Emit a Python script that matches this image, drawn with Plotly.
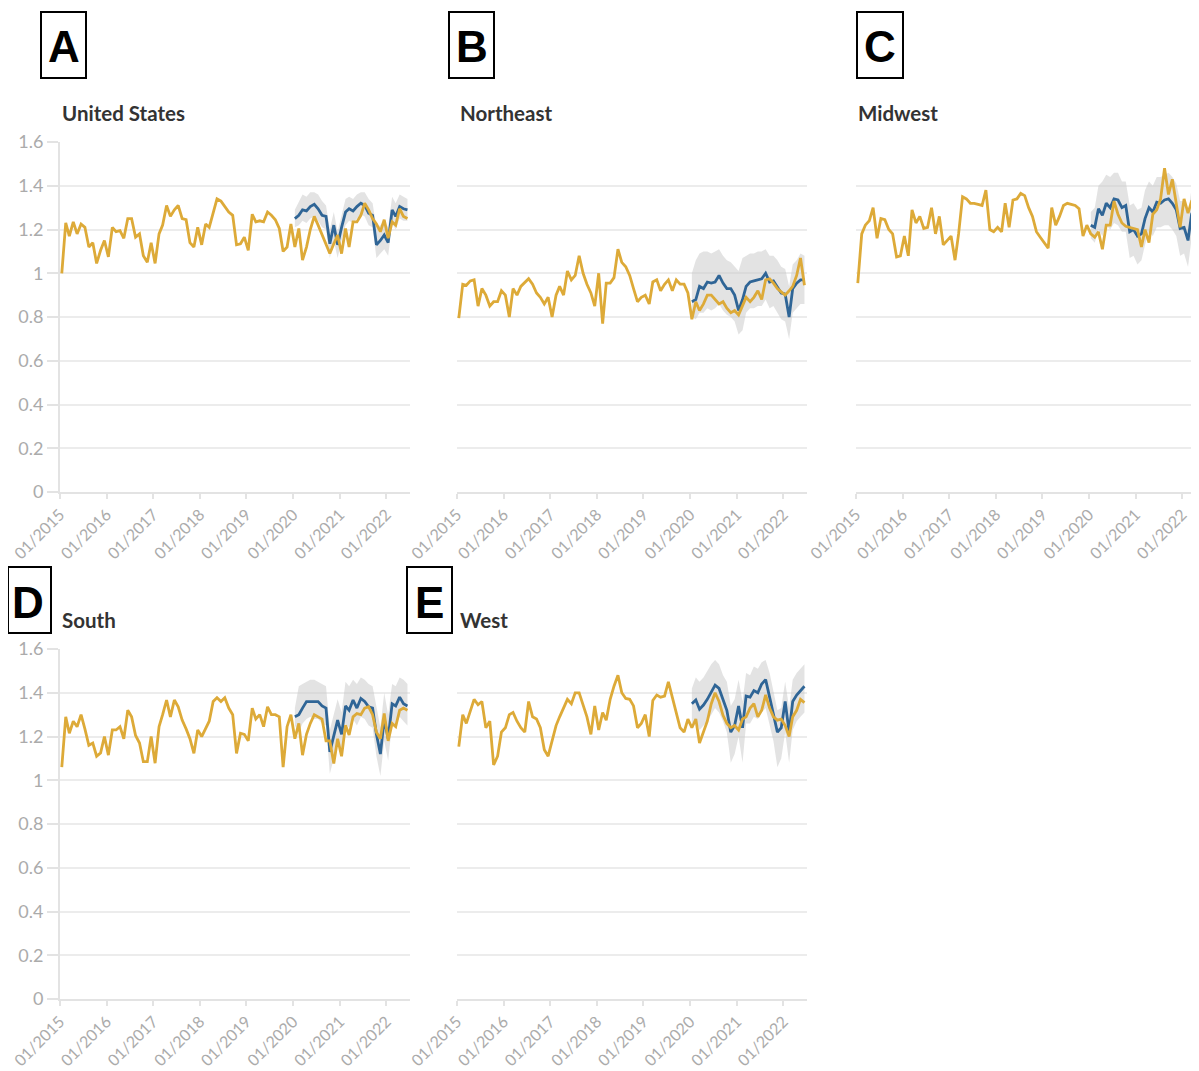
import plotly.graph_objects as go

# ---------------- data (monthly, Jan 2015 - Jun 2022) ----------------
months = [f"{2015 + i // 12}-{i % 12 + 1:02d}-15" for i in range(90)]
exp_months = months[60:]  # expected series starts Jan 2020

panel_titles = ["United States", "Northeast", "Midwest", "South", "West"]
panel_letters = ["A", "B", "C", "D", "E"]

us_obs = [1.0, 1.23, 1.17, 1.235, 1.18, 1.225, 1.21, 1.12, 1.14, 1.045, 1.105, 1.15,
          1.075, 1.21, 1.19, 1.195, 1.16, 1.25, 1.25, 1.165, 1.18, 1.08, 1.05, 1.14,
          1.045, 1.18, 1.22, 1.31, 1.26, 1.29, 1.31, 1.25, 1.245, 1.14, 1.12, 1.21,
          1.13, 1.225, 1.21, 1.28, 1.34, 1.33, 1.305, 1.28, 1.265, 1.13, 1.135, 1.165,
          1.105, 1.27, 1.235, 1.24, 1.235, 1.28, 1.265, 1.245, 1.205, 1.10, 1.12, 1.225,
          1.12, 1.205, 1.06, 1.12, 1.20, 1.26, 1.22, 1.175, 1.135, 1.09, 1.135, 1.175,
          1.09, 1.205, 1.12, 1.235, 1.235, 1.265, 1.32, 1.29, 1.25, 1.225, 1.19, 1.245,
          1.16, 1.235, 1.22, 1.295, 1.26, 1.25]
us_exp = [1.25, 1.265, 1.29, 1.285, 1.305, 1.315, 1.295, 1.265, 1.26, 1.135, 1.22, 1.13,
          1.21, 1.28, 1.295, 1.285, 1.305, 1.32, 1.31, 1.275, 1.265, 1.13, 1.15, 1.175,
          1.14, 1.29, 1.26, 1.305, 1.295, 1.29]
us_up = [1.29, 1.33, 1.36, 1.35, 1.37, 1.37, 1.36, 1.33, 1.31, 1.20, 1.28, 1.19,
         1.27, 1.34, 1.35, 1.34, 1.36, 1.37, 1.37, 1.34, 1.32, 1.21, 1.22, 1.24,
         1.21, 1.35, 1.32, 1.36, 1.35, 1.34]
us_lo = [1.21, 1.22, 1.24, 1.23, 1.25, 1.26, 1.24, 1.21, 1.20, 1.07, 1.15, 1.07,
         1.15, 1.22, 1.24, 1.23, 1.25, 1.27, 1.26, 1.22, 1.21, 1.07, 1.09, 1.11,
         1.08, 1.23, 1.20, 1.25, 1.24, 1.24]

ne_obs = [0.795, 0.95, 0.945, 0.965, 0.97, 0.85, 0.93, 0.90, 0.85, 0.87, 0.87, 0.92,
          0.90, 0.80, 0.93, 0.90, 0.94, 0.96, 0.975, 0.95, 0.91, 0.89, 0.86, 0.89,
          0.80, 0.90, 0.94, 0.90, 1.01, 0.97, 0.99, 1.08, 1.00, 0.95, 0.91, 0.85,
          1.00, 0.77, 0.955, 0.955, 0.98, 1.11, 1.05, 1.03, 0.99, 0.93, 0.87, 0.89,
          0.90, 0.86, 0.96, 0.97, 0.92, 0.95, 0.97, 0.92, 0.97, 0.95, 0.95, 0.91,
          0.79, 0.87, 0.83, 0.86, 0.90, 0.90, 0.88, 0.86, 0.87, 0.84, 0.82, 0.83,
          0.81, 0.85, 0.89, 0.87, 0.89, 0.92, 0.88, 0.97, 0.975, 0.955, 0.93, 0.915,
          0.90, 0.92, 0.94, 0.99, 1.07, 0.945]
ne_exp = [0.87, 0.88, 0.94, 0.93, 0.96, 0.955, 0.96, 0.99, 0.955, 0.93, 0.93, 0.90,
          0.83, 0.88, 0.94, 0.96, 0.965, 0.97, 0.975, 1.00, 0.96, 0.965, 0.94, 0.91,
          0.905, 0.80, 0.93, 0.955, 0.97, 0.97]
ne_up = [1.00, 1.06, 1.09, 1.10, 1.10, 1.09, 1.10, 1.11, 1.08, 1.06, 1.05, 1.03,
         1.01, 1.07, 1.08, 1.09, 1.09, 1.10, 1.10, 1.11, 1.08, 1.08, 1.06, 1.03,
         1.02, 0.94, 1.04, 1.06, 1.09, 1.08]
ne_lo = [0.80, 0.79, 0.82, 0.82, 0.84, 0.83, 0.84, 0.86, 0.83, 0.81, 0.80, 0.78,
         0.72, 0.74, 0.82, 0.84, 0.84, 0.85, 0.85, 0.88, 0.84, 0.85, 0.82, 0.79,
         0.78, 0.70, 0.82, 0.84, 0.86, 0.86]

mw_obs = [0.955, 1.18, 1.22, 1.24, 1.30, 1.16, 1.25, 1.245, 1.20, 1.18, 1.075, 1.08,
          1.17, 1.08, 1.29, 1.23, 1.26, 1.205, 1.21, 1.30, 1.18, 1.26, 1.13, 1.15,
          1.17, 1.06, 1.18, 1.35, 1.34, 1.32, 1.32, 1.315, 1.31, 1.38, 1.20, 1.19,
          1.21, 1.19, 1.32, 1.21, 1.335, 1.34, 1.365, 1.355, 1.30, 1.26, 1.19, 1.165,
          1.14, 1.115, 1.30, 1.22, 1.26, 1.31, 1.32, 1.315, 1.31, 1.295, 1.17, 1.22,
          1.18, 1.165, 1.19, 1.11, 1.22, 1.22, 1.33, 1.27, 1.23, 1.215, 1.21, 1.205,
          1.20, 1.12, 1.20, 1.14, 1.27, 1.29, 1.34, 1.48, 1.36, 1.43, 1.32, 1.21,
          1.34, 1.275, 1.33, 1.34, 1.345, 1.35]
mw_exp = [1.22, 1.21, 1.295, 1.265, 1.32, 1.30, 1.34, 1.335, 1.30, 1.31, 1.19, 1.20,
          1.17, 1.18, 1.25, 1.30, 1.28, 1.325, 1.32, 1.335, 1.34, 1.32, 1.29, 1.205,
          1.21, 1.15, 1.27, 1.31, 1.33, 1.34]
mw_up = [1.28, 1.30, 1.40, 1.42, 1.45, 1.44, 1.46, 1.46, 1.42, 1.42, 1.31, 1.32,
         1.29, 1.30, 1.38, 1.42, 1.40, 1.44, 1.44, 1.45, 1.46, 1.44, 1.41, 1.33,
         1.33, 1.27, 1.39, 1.42, 1.44, 1.44]
mw_lo = [1.16, 1.14, 1.20, 1.17, 1.22, 1.20, 1.23, 1.22, 1.19, 1.19, 1.07, 1.08,
         1.04, 1.06, 1.13, 1.19, 1.17, 1.21, 1.21, 1.22, 1.22, 1.20, 1.17, 1.08,
         1.09, 1.03, 1.16, 1.20, 1.22, 1.23]

so_obs = [1.06, 1.29, 1.215, 1.27, 1.245, 1.30, 1.235, 1.16, 1.17, 1.11, 1.125, 1.20,
          1.115, 1.23, 1.23, 1.245, 1.19, 1.32, 1.29, 1.205, 1.17, 1.085, 1.085, 1.20,
          1.078, 1.245, 1.30, 1.367, 1.29, 1.367, 1.336, 1.275, 1.235, 1.19, 1.123, 1.23,
          1.20, 1.235, 1.27, 1.36, 1.377, 1.36, 1.377, 1.33, 1.30, 1.123, 1.215, 1.21,
          1.18, 1.33, 1.28, 1.30, 1.245, 1.336, 1.30, 1.30, 1.29, 1.06, 1.245, 1.30,
          1.19, 1.26, 1.115, 1.21, 1.26, 1.30, 1.29, 1.28, 1.18, 1.18, 1.077, 1.19,
          1.11, 1.252, 1.207, 1.29, 1.305, 1.30, 1.33, 1.336, 1.30, 1.22, 1.19, 1.305,
          1.18, 1.26, 1.245, 1.32, 1.33, 1.32]
so_exp = [1.29, 1.30, 1.33, 1.36, 1.36, 1.36, 1.36, 1.34, 1.33, 1.13, 1.20, 1.275,
          1.21, 1.34, 1.32, 1.367, 1.33, 1.374, 1.36, 1.336, 1.33, 1.21, 1.12, 1.28,
          1.19, 1.35, 1.34, 1.38, 1.35, 1.34]
so_up = [1.33, 1.43, 1.44, 1.45, 1.46, 1.46, 1.45, 1.44, 1.43, 1.23, 1.30, 1.37,
         1.31, 1.45, 1.43, 1.46, 1.44, 1.47, 1.46, 1.44, 1.43, 1.33, 1.24, 1.40,
         1.30, 1.44, 1.43, 1.47, 1.46, 1.44]
so_lo = [1.25, 1.22, 1.26, 1.28, 1.29, 1.28, 1.28, 1.26, 1.25, 1.03, 1.10, 1.18,
         1.11, 1.26, 1.24, 1.28, 1.25, 1.29, 1.28, 1.25, 1.24, 1.11, 1.02, 1.18,
         1.09, 1.26, 1.25, 1.29, 1.27, 1.25]

we_obs = [1.154, 1.30, 1.26, 1.32, 1.37, 1.345, 1.36, 1.24, 1.27, 1.07, 1.11, 1.22,
          1.24, 1.30, 1.31, 1.27, 1.24, 1.22, 1.36, 1.29, 1.28, 1.24, 1.14, 1.11,
          1.18, 1.25, 1.29, 1.33, 1.37, 1.35, 1.40, 1.40, 1.345, 1.29, 1.21, 1.34,
          1.23, 1.31, 1.275, 1.37, 1.43, 1.48, 1.40, 1.374, 1.37, 1.34, 1.24, 1.26,
          1.30, 1.20, 1.365, 1.39, 1.38, 1.385, 1.45, 1.38, 1.30, 1.24, 1.22, 1.28,
          1.24, 1.28, 1.17, 1.22, 1.27, 1.35, 1.40, 1.36, 1.297, 1.26, 1.24, 1.25,
          1.23, 1.28, 1.29, 1.33, 1.35, 1.29, 1.32, 1.39, 1.33, 1.29, 1.275, 1.28,
          1.25, 1.20, 1.29, 1.32, 1.37, 1.355]
we_exp = [1.35, 1.367, 1.325, 1.344, 1.37, 1.40, 1.435, 1.42, 1.37, 1.32, 1.22, 1.25,
          1.34, 1.24, 1.385, 1.38, 1.41, 1.40, 1.44, 1.46, 1.38, 1.30, 1.22, 1.24,
          1.36, 1.22, 1.36, 1.39, 1.41, 1.43]
we_up = [1.42, 1.47, 1.45, 1.47, 1.50, 1.53, 1.55, 1.53, 1.48, 1.45, 1.34, 1.37,
         1.46, 1.36, 1.49, 1.48, 1.52, 1.51, 1.54, 1.55, 1.49, 1.41, 1.32, 1.33,
         1.45, 1.33, 1.46, 1.49, 1.51, 1.53]
we_lo = [1.26, 1.28, 1.23, 1.25, 1.27, 1.30, 1.33, 1.31, 1.27, 1.22, 1.08, 1.12,
         1.20, 1.08, 1.26, 1.26, 1.29, 1.28, 1.31, 1.33, 1.26, 1.18, 1.06, 1.10,
         1.22, 1.08, 1.23, 1.27, 1.29, 1.31]

observed = [us_obs, ne_obs, mw_obs, so_obs, we_obs]
expected = [us_exp, ne_exp, mw_exp, so_exp, we_exp]
upper = [us_up, ne_up, mw_up, so_up, we_up]
lower = [us_lo, ne_lo, mw_lo, so_lo, we_lo]

# ---------------- layout (page pixel positions) ----------------
OFF = 8                       # default page body margin
W, H = 1199 - OFF, 1071 - OFF  # figure size so it ends at the window edge
YELLOW = "#DDAA38"
BLUE = "#2F6596"
BAND = "rgba(200,200,200,0.5)"
GRID = "#ECECEC"
AXIS = "#E3E3E3"
TICKFONT = "#ABABAB"

# (x0, x1, ytop, ybottom, show y labels, x range end) in page pixels
frames = [
    (60, 410, 141.6, 492, True, "2022-07-05"),
    (457, 807, 141.6, 492, False, "2022-07-05"),
    (856, 1199, 141.6, 492, False, "2022-05-12"),
    (60, 410, 648.6, 999, True, "2022-07-05"),
    (457, 807, 648.6, 999, False, "2022-07-05"),
]
title_pos = [(60, 113), (458, 113), (856, 113), (60, 620), (458, 620)]
letter_boxes = [(41, 12, 86, 78), (449, 12, 494, 78), (857, 12, 903, 78),
                (5, 567, 51, 633), (407, 567, 452, 633)]


def fx(p):
    return min(max((p - OFF) / W, 0), 1)


def fy(p):
    return min(max(1 - (p - OFF) / H, 0), 1)


fig = go.Figure()
layout = dict(
    width=W, height=H, autosize=False, margin=dict(l=0, r=0, t=0, b=0, pad=0, autoexpand=False),
    paper_bgcolor="white", plot_bgcolor="white", showlegend=False,
    font=dict(family="Lato, Open Sans, sans-serif", color=TICKFONT),
    shapes=[], annotations=[],
)

for i in range(5):
    n = "" if i == 0 else str(i + 1)
    xa, ya = "x" + n, "y" + n
    x0, x1, yt, yb, ylab, xend = frames[i]

    fig.add_trace(go.Scatter(x=exp_months, y=lower[i], xaxis=xa, yaxis=ya, mode="lines",
                             line=dict(width=0, color=BAND), hoverinfo="skip"))
    fig.add_trace(go.Scatter(x=exp_months, y=upper[i], xaxis=xa, yaxis=ya, mode="lines",
                             line=dict(width=0, color=BAND), fill="tonexty",
                             fillcolor=BAND, hoverinfo="skip"))
    fig.add_trace(go.Scatter(x=exp_months, y=expected[i], xaxis=xa, yaxis=ya, mode="lines",
                             line=dict(width=2.8, color=BLUE)))
    fig.add_trace(go.Scatter(x=months, y=observed[i], xaxis=xa, yaxis=ya, mode="lines",
                             line=dict(width=2.8, color=YELLOW)))

    layout["xaxis" + n] = dict(
        domain=[fx(x0), fx(x1)], anchor=ya, range=["2015-01-01", xend], automargin=False,
        type="date", tick0="2015-01-01", dtick="M12", tickformat="%m/%Y",
        tickangle=-45, showgrid=False, zeroline=False, ticklabeloverflow="allow",
        showline=True, linecolor=AXIS, linewidth=2,
        ticks="outside", ticklen=5, tickwidth=2, tickcolor=AXIS,
        tickfont=dict(size=16, color=TICKFONT),
    )
    layout["yaxis" + n] = dict(
        domain=[fy(yb), fy(yt)], anchor=xa, range=[0, 1.602], automargin=False,
        tick0=0, dtick=0.2, showgrid=True, gridcolor=GRID, gridwidth=2,
        zeroline=False, showline=ylab, linecolor=AXIS, linewidth=2,
        ticks="outside" if ylab else "", ticklen=11, tickwidth=2, tickcolor=AXIS,
        showticklabels=ylab, tickfont=dict(size=18, color=TICKFONT),
    )

    tx, ty = title_pos[i]
    layout["annotations"].append(dict(
        text="<b>" + panel_titles[i] + "</b>", x=fx(tx), y=fy(ty), xref="paper", yref="paper",
        xanchor="left", yanchor="middle", showarrow=False,
        font=dict(size=20.5, color="#333333", family="Lato, sans-serif")))

    bx0, by0, bx1, by1 = letter_boxes[i]
    layout["shapes"].append(dict(
        type="rect", xref="paper", yref="paper", x0=fx(bx0), x1=fx(bx1), y0=fy(by1), y1=fy(by0),
        line=dict(color="black", width=2), fillcolor="white"))
    layout["annotations"].append(dict(
        text="<b>" + panel_letters[i] + "</b>", x=fx((bx0 + bx1) / 2), y=fy((by0 + by1) / 2 + 2),
        xref="paper", yref="paper", xanchor="center", yanchor="middle", showarrow=False,
        font=dict(size=44, color="black", family="Liberation Sans, Arial, sans-serif")))

fig.update_layout(**layout)
fig.write_html("out.html", config={"responsive": False})
